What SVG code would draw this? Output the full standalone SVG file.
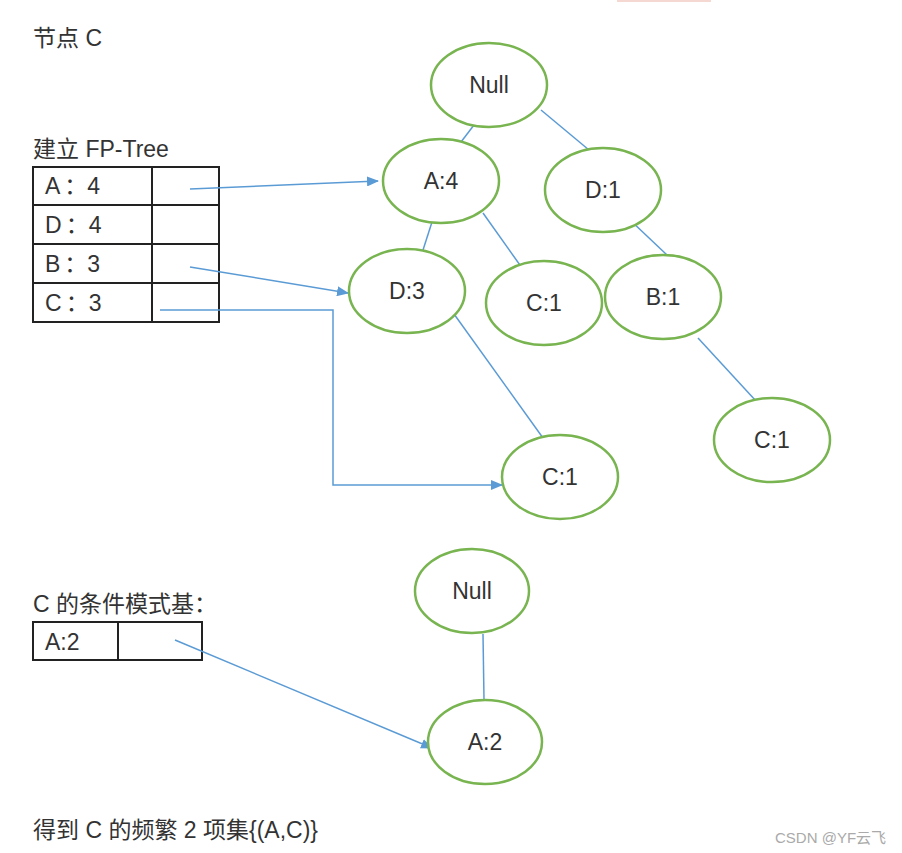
<svg xmlns="http://www.w3.org/2000/svg" width="902" height="853" viewBox="0 0 902 853">
<style>
text{font-family:"Liberation Sans","Noto Sans CJK SC",sans-serif;fill:#333;}
.lbl{font-size:23px;}
.nt{font-size:23px;text-anchor:middle;dominant-baseline:central;}
.node ellipse{fill:#fff;stroke:#78b450;stroke-width:2.5;}
.edge{stroke:#5b9bd5;stroke-width:1.5;fill:none;}
.tbl{fill:none;stroke:#222;stroke-width:2;}
</style>
<defs>
<marker id="ah" markerWidth="12" markerHeight="10" refX="11" refY="5" orient="auto" markerUnits="userSpaceOnUse">
<path d="M0,0 L12,5 L0,10 Z" fill="#5b9bd5"/>
</marker>
</defs>
<rect width="902" height="853" fill="#fff"/>
<rect x="617" y="0" width="94" height="2" fill="#f6d8d2"/>

<text class="lbl" x="33" y="46">节点 C</text>
<text class="lbl" x="33" y="157">建立 FP-Tree</text>

<g id="header-table">
<rect class="tbl" x="33" y="167" width="186" height="155"/>
<line class="tbl" x1="152" y1="167" x2="152" y2="322"/>
<line class="tbl" x1="33" y1="205" x2="219" y2="205"/>
<line class="tbl" x1="33" y1="244" x2="219" y2="244"/>
<line class="tbl" x1="33" y1="283" x2="219" y2="283"/>
<text class="lbl" x="45" y="194">A<tspan dx="4">：</tspan>4</text>
<text class="lbl" x="45" y="233">D<tspan dx="4">：</tspan>4</text>
<text class="lbl" x="45" y="272">B<tspan dx="4">：</tspan>3</text>
<text class="lbl" x="45" y="311">C<tspan dx="4">：</tspan>3</text>
</g>

<g id="cond-table">
<rect class="tbl" x="33" y="622" width="169" height="38"/>
<line class="tbl" x1="118" y1="622" x2="118" y2="660"/>
<text class="lbl" x="45" y="650">A:2</text>
</g>

<g id="connectors">
<line class="edge" x1="474" y1="125" x2="461" y2="142"/>
<line class="edge" x1="541" y1="110" x2="589" y2="150"/>
<line class="edge" x1="432" y1="222" x2="423" y2="250"/>
<line class="edge" x1="483" y1="213" x2="527" y2="275"/>
<line class="edge" x1="629" y1="219" x2="667" y2="255"/>
<line class="edge" x1="454" y1="314" x2="543" y2="438"/>
<line class="edge" x1="698" y1="338" x2="756" y2="401"/>
<line class="edge" x1="483" y1="634" x2="484" y2="700"/>
<line class="edge" x1="190" y1="189" x2="378" y2="181" marker-end="url(#ah)"/>
<line class="edge" x1="190" y1="267" x2="348" y2="293" marker-end="url(#ah)"/>
<polyline class="edge" points="160,310 333,310 333,485 502,485" marker-end="url(#ah)"/>
<line class="edge" x1="175" y1="640" x2="432" y2="748" marker-end="url(#ah)"/>
</g>

<g id="n-null" class="node"><ellipse cx="489" cy="85" rx="58" ry="42"/><text class="nt" x="489" y="85">Null</text></g>
<g id="n-a4" class="node"><ellipse cx="441" cy="181" rx="58" ry="42"/><text class="nt" x="441" y="181">A:4</text></g>
<g id="n-d1" class="node"><ellipse cx="603" cy="190" rx="58" ry="42"/><text class="nt" x="603" y="190">D:1</text></g>
<g id="n-d3" class="node"><ellipse cx="407" cy="291" rx="58" ry="42"/><text class="nt" x="407" y="291">D:3</text></g>
<g id="n-c1a" class="node"><ellipse cx="544" cy="303" rx="58" ry="42"/><text class="nt" x="544" y="303">C:1</text></g>
<g id="n-b1" class="node"><ellipse cx="663" cy="297" rx="58" ry="42"/><text class="nt" x="663" y="297">B:1</text></g>
<g id="n-c1b" class="node"><ellipse cx="772" cy="440" rx="58" ry="42"/><text class="nt" x="772" y="440">C:1</text></g>
<g id="n-c1c" class="node"><ellipse cx="560" cy="477" rx="58" ry="42"/><text class="nt" x="560" y="477">C:1</text></g>
<g id="n-null2" class="node"><ellipse cx="472" cy="591" rx="57" ry="42"/><text class="nt" x="472" y="591">Null</text></g>
<g id="n-a2" class="node"><ellipse cx="485" cy="742" rx="57" ry="42"/><text class="nt" x="485" y="742">A:2</text></g>

<text class="lbl" x="33" y="612">C 的条件模式基：</text>
<text class="lbl" x="33" y="838">得到 C 的频繁 2 项集{(A,C)}</text>
<text x="775" y="843" style="font-size:15px;fill:#aaa;">CSDN @YF云飞</text>
</svg>
